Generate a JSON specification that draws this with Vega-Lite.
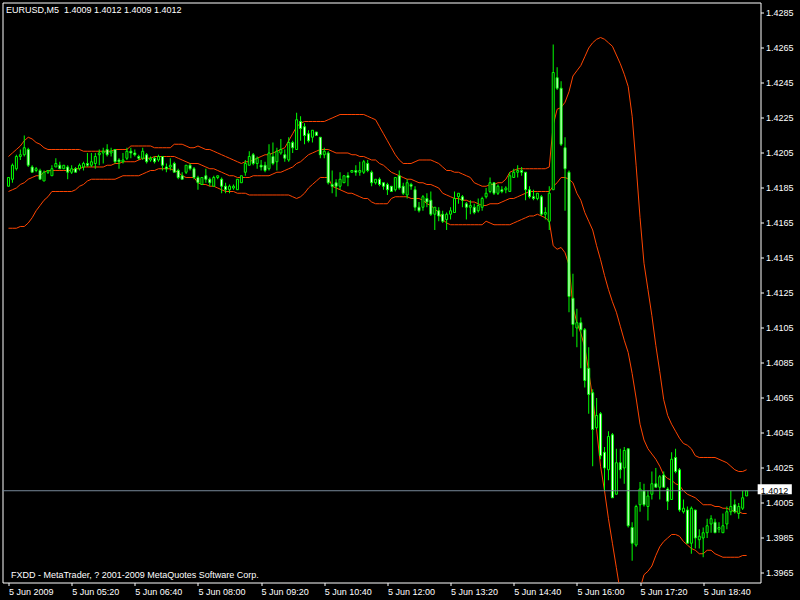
{
"$schema": "https://vega.github.io/schema/vega-lite/v6.json",
"width": 758, "height": 580,
"autosize": "none",
"padding": {"left": 2.5, "top": 2.5, "right": 39.5, "bottom": 17.5},
"background": "#000000",
"config": {"view": {"stroke": "#ffffff", "strokeWidth": 1}, "font": "Liberation Sans", "axis": {"labelOverlap": false, "labelSeparation": 0, "labelFlush": false, "labelBound": false}},
"title": {"text": "EURUSD,M5\u00a0 1.4009 1.4012 1.4009 1.4012", "anchor": "start", "frame": "group", "orient": "top", "offset": 0, "baseline": "top", "dx": 3.5, "dy": 12, "color": "#ffffff", "font": "Liberation Sans", "fontSize": 9, "fontWeight": "normal"},
"data": {"values": [
{"i":0,"o":1.4186,"h":1.4191,"l":1.4186,"c":1.4191,"u":1.4203,"m":1.4183,"lo":1.4162},
{"i":1,"o":1.4190,"h":1.4199,"l":1.4188,"c":1.4198,"u":1.4205,"m":1.4184,"lo":1.4162},
{"i":2,"o":1.4196,"h":1.4204,"l":1.4195,"c":1.4203,"u":1.4207,"m":1.4185,"lo":1.4162},
{"i":3,"o":1.4203,"h":1.4207,"l":1.4201,"c":1.4204,"u":1.4209,"m":1.4187,"lo":1.4163},
{"i":4,"o":1.4204,"h":1.4215,"l":1.4203,"c":1.4208,"u":1.4212,"m":1.4188,"lo":1.4163},
{"i":5,"o":1.4207,"h":1.4208,"l":1.4197,"c":1.4198,"u":1.4214,"m":1.4190,"lo":1.4165},
{"i":6,"o":1.4197,"h":1.4198,"l":1.4194,"c":1.4194,"u":1.4213,"m":1.4191,"lo":1.4168},
{"i":7,"o":1.4195,"h":1.4197,"l":1.4194,"c":1.4196,"u":1.4211,"m":1.4192,"lo":1.4172},
{"i":8,"o":1.4195,"h":1.4196,"l":1.4190,"c":1.4190,"u":1.4210,"m":1.4192,"lo":1.4175},
{"i":9,"o":1.4189,"h":1.4195,"l":1.4189,"c":1.4194,"u":1.4208,"m":1.4194,"lo":1.4178},
{"i":10,"o":1.4194,"h":1.4195,"l":1.4193,"c":1.4195,"u":1.4207,"m":1.4195,"lo":1.4180},
{"i":11,"o":1.4192,"h":1.4198,"l":1.4192,"c":1.4196,"u":1.4207,"m":1.4195,"lo":1.4183},
{"i":12,"o":1.4197,"h":1.4202,"l":1.4197,"c":1.4199,"u":1.4207,"m":1.4195,"lo":1.4183},
{"i":13,"o":1.4198,"h":1.4200,"l":1.4196,"c":1.4196,"u":1.4207,"m":1.4195,"lo":1.4183},
{"i":14,"o":1.4196,"h":1.4198,"l":1.4196,"c":1.4198,"u":1.4207,"m":1.4195,"lo":1.4183},
{"i":15,"o":1.4197,"h":1.4198,"l":1.4190,"c":1.4194,"u":1.4207,"m":1.4195,"lo":1.4183},
{"i":16,"o":1.4194,"h":1.4198,"l":1.4193,"c":1.4196,"u":1.4207,"m":1.4195,"lo":1.4183},
{"i":17,"o":1.4196,"h":1.4197,"l":1.4194,"c":1.4194,"u":1.4207,"m":1.4196,"lo":1.4184},
{"i":18,"o":1.4196,"h":1.4199,"l":1.4195,"c":1.4198,"u":1.4207,"m":1.4196,"lo":1.4186},
{"i":19,"o":1.4197,"h":1.4200,"l":1.4195,"c":1.4199,"u":1.4206,"m":1.4197,"lo":1.4187},
{"i":20,"o":1.4199,"h":1.4205,"l":1.4197,"c":1.4198,"u":1.4206,"m":1.4197,"lo":1.4189},
{"i":21,"o":1.4198,"h":1.4205,"l":1.4197,"c":1.4200,"u":1.4206,"m":1.4197,"lo":1.4190},
{"i":22,"o":1.4199,"h":1.4205,"l":1.4196,"c":1.4203,"u":1.4206,"m":1.4197,"lo":1.4190},
{"i":23,"o":1.4204,"h":1.4207,"l":1.4198,"c":1.4205,"u":1.4206,"m":1.4197,"lo":1.4190},
{"i":24,"o":1.4205,"h":1.4208,"l":1.4199,"c":1.4206,"u":1.4206,"m":1.4197,"lo":1.4190},
{"i":25,"o":1.4207,"h":1.4210,"l":1.4203,"c":1.4204,"u":1.4206,"m":1.4198,"lo":1.4190},
{"i":26,"o":1.4205,"h":1.4208,"l":1.4203,"c":1.4206,"u":1.4206,"m":1.4198,"lo":1.4190},
{"i":27,"o":1.4207,"h":1.4207,"l":1.4199,"c":1.4200,"u":1.4207,"m":1.4199,"lo":1.4190},
{"i":28,"o":1.4201,"h":1.4202,"l":1.4196,"c":1.4200,"u":1.4207,"m":1.4199,"lo":1.4191},
{"i":29,"o":1.4200,"h":1.4205,"l":1.4199,"c":1.4201,"u":1.4207,"m":1.4200,"lo":1.4192},
{"i":30,"o":1.4202,"h":1.4208,"l":1.4201,"c":1.4206,"u":1.4207,"m":1.4200,"lo":1.4192},
{"i":31,"o":1.4206,"h":1.4208,"l":1.4202,"c":1.4205,"u":1.4209,"m":1.4200,"lo":1.4192},
{"i":32,"o":1.4205,"h":1.4207,"l":1.4203,"c":1.4204,"u":1.4209,"m":1.4200,"lo":1.4192},
{"i":33,"o":1.4203,"h":1.4204,"l":1.4201,"c":1.4202,"u":1.4209,"m":1.4201,"lo":1.4192},
{"i":34,"o":1.4202,"h":1.4208,"l":1.4201,"c":1.4206,"u":1.4209,"m":1.4202,"lo":1.4193},
{"i":35,"o":1.4204,"h":1.4205,"l":1.4199,"c":1.4200,"u":1.4209,"m":1.4202,"lo":1.4194},
{"i":36,"o":1.4201,"h":1.4203,"l":1.4200,"c":1.4202,"u":1.4209,"m":1.4202,"lo":1.4195},
{"i":37,"o":1.4202,"h":1.4203,"l":1.4199,"c":1.4200,"u":1.4208,"m":1.4203,"lo":1.4195},
{"i":38,"o":1.4201,"h":1.4204,"l":1.4200,"c":1.4203,"u":1.4208,"m":1.4203,"lo":1.4196},
{"i":39,"o":1.4203,"h":1.4203,"l":1.4195,"c":1.4198,"u":1.4208,"m":1.4203,"lo":1.4196},
{"i":40,"o":1.4197,"h":1.4199,"l":1.4194,"c":1.4196,"u":1.4208,"m":1.4203,"lo":1.4196},
{"i":41,"o":1.4197,"h":1.4202,"l":1.4195,"c":1.4198,"u":1.4208,"m":1.4203,"lo":1.4196},
{"i":42,"o":1.4199,"h":1.4200,"l":1.4194,"c":1.4194,"u":1.4210,"m":1.4203,"lo":1.4195},
{"i":43,"o":1.4195,"h":1.4196,"l":1.4190,"c":1.4191,"u":1.4210,"m":1.4202,"lo":1.4194},
{"i":44,"o":1.4192,"h":1.4194,"l":1.4190,"c":1.4190,"u":1.4210,"m":1.4201,"lo":1.4192},
{"i":45,"o":1.4194,"h":1.4198,"l":1.4193,"c":1.4198,"u":1.4209,"m":1.4200,"lo":1.4191},
{"i":46,"o":1.4198,"h":1.4199,"l":1.4195,"c":1.4196,"u":1.4208,"m":1.4199,"lo":1.4191},
{"i":47,"o":1.4196,"h":1.4197,"l":1.4190,"c":1.4191,"u":1.4208,"m":1.4199,"lo":1.4191},
{"i":48,"o":1.4191,"h":1.4192,"l":1.4184,"c":1.4188,"u":1.4209,"m":1.4199,"lo":1.4188},
{"i":49,"o":1.4187,"h":1.4191,"l":1.4187,"c":1.4191,"u":1.4208,"m":1.4198,"lo":1.4187},
{"i":50,"o":1.4192,"h":1.4196,"l":1.4188,"c":1.4190,"u":1.4207,"m":1.4197,"lo":1.4187},
{"i":51,"o":1.4190,"h":1.4191,"l":1.4186,"c":1.4188,"u":1.4207,"m":1.4196,"lo":1.4186},
{"i":52,"o":1.4186,"h":1.4192,"l":1.4186,"c":1.4191,"u":1.4206,"m":1.4196,"lo":1.4186},
{"i":53,"o":1.4191,"h":1.4192,"l":1.4190,"c":1.4192,"u":1.4205,"m":1.4195,"lo":1.4185},
{"i":54,"o":1.4190,"h":1.4191,"l":1.4182,"c":1.4186,"u":1.4204,"m":1.4194,"lo":1.4184},
{"i":55,"o":1.4186,"h":1.4188,"l":1.4182,"c":1.4184,"u":1.4203,"m":1.4193,"lo":1.4183},
{"i":56,"o":1.4184,"h":1.4187,"l":1.4182,"c":1.4186,"u":1.4202,"m":1.4192,"lo":1.4183},
{"i":57,"o":1.4185,"h":1.4187,"l":1.4184,"c":1.4186,"u":1.4201,"m":1.4192,"lo":1.4183},
{"i":58,"o":1.4184,"h":1.4190,"l":1.4184,"c":1.4190,"u":1.4200,"m":1.4191,"lo":1.4182},
{"i":59,"o":1.4188,"h":1.4192,"l":1.4188,"c":1.4192,"u":1.4199,"m":1.4191,"lo":1.4182},
{"i":60,"o":1.4194,"h":1.4201,"l":1.4192,"c":1.4199,"u":1.4200,"m":1.4191,"lo":1.4182},
{"i":61,"o":1.4198,"h":1.4206,"l":1.4198,"c":1.4203,"u":1.4200,"m":1.4191,"lo":1.4181},
{"i":62,"o":1.4204,"h":1.4205,"l":1.4198,"c":1.4199,"u":1.4201,"m":1.4192,"lo":1.4181},
{"i":63,"o":1.4199,"h":1.4203,"l":1.4196,"c":1.4202,"u":1.4202,"m":1.4192,"lo":1.4181},
{"i":64,"o":1.4198,"h":1.4201,"l":1.4195,"c":1.4197,"u":1.4203,"m":1.4192,"lo":1.4181},
{"i":65,"o":1.4198,"h":1.4200,"l":1.4194,"c":1.4195,"u":1.4204,"m":1.4192,"lo":1.4181},
{"i":66,"o":1.4196,"h":1.4210,"l":1.4195,"c":1.4205,"u":1.4204,"m":1.4192,"lo":1.4181},
{"i":67,"o":1.4203,"h":1.4211,"l":1.4198,"c":1.4199,"u":1.4205,"m":1.4193,"lo":1.4181},
{"i":68,"o":1.4200,"h":1.4208,"l":1.4195,"c":1.4206,"u":1.4206,"m":1.4194,"lo":1.4181},
{"i":69,"o":1.4205,"h":1.4213,"l":1.4204,"c":1.4207,"u":1.4207,"m":1.4194,"lo":1.4181},
{"i":70,"o":1.4204,"h":1.4207,"l":1.4200,"c":1.4202,"u":1.4208,"m":1.4195,"lo":1.4181},
{"i":71,"o":1.4201,"h":1.4214,"l":1.4200,"c":1.4211,"u":1.4212,"m":1.4196,"lo":1.4181},
{"i":72,"o":1.4211,"h":1.4212,"l":1.4205,"c":1.4208,"u":1.4216,"m":1.4197,"lo":1.4180},
{"i":73,"o":1.4207,"h":1.4228,"l":1.4207,"c":1.4224,"u":1.4220,"m":1.4199,"lo":1.4179},
{"i":74,"o":1.4223,"h":1.4226,"l":1.4212,"c":1.4219,"u":1.4222,"m":1.4200,"lo":1.4180},
{"i":75,"o":1.4220,"h":1.4222,"l":1.4210,"c":1.4215,"u":1.4223,"m":1.4202,"lo":1.4182},
{"i":76,"o":1.4216,"h":1.4218,"l":1.4211,"c":1.4212,"u":1.4223,"m":1.4204,"lo":1.4185},
{"i":77,"o":1.4214,"h":1.4218,"l":1.4211,"c":1.4218,"u":1.4223,"m":1.4205,"lo":1.4187},
{"i":78,"o":1.4217,"h":1.4217,"l":1.4215,"c":1.4215,"u":1.4223,"m":1.4206,"lo":1.4189},
{"i":79,"o":1.4214,"h":1.4214,"l":1.4202,"c":1.4204,"u":1.4223,"m":1.4207,"lo":1.4191},
{"i":80,"o":1.4204,"h":1.4208,"l":1.4202,"c":1.4206,"u":1.4223,"m":1.4207,"lo":1.4191},
{"i":81,"o":1.4205,"h":1.4206,"l":1.4187,"c":1.4188,"u":1.4224,"m":1.4207,"lo":1.4191},
{"i":82,"o":1.4187,"h":1.4195,"l":1.4182,"c":1.4186,"u":1.4225,"m":1.4206,"lo":1.4186},
{"i":83,"o":1.4188,"h":1.4190,"l":1.4180,"c":1.4186,"u":1.4226,"m":1.4205,"lo":1.4185},
{"i":84,"o":1.4186,"h":1.4194,"l":1.4184,"c":1.4190,"u":1.4227,"m":1.4205,"lo":1.4184},
{"i":85,"o":1.4188,"h":1.4192,"l":1.4188,"c":1.4192,"u":1.4227,"m":1.4205,"lo":1.4183},
{"i":86,"o":1.4192,"h":1.4194,"l":1.4186,"c":1.4191,"u":1.4227,"m":1.4205,"lo":1.4182},
{"i":87,"o":1.4194,"h":1.4195,"l":1.4194,"c":1.4195,"u":1.4227,"m":1.4204,"lo":1.4182},
{"i":88,"o":1.4195,"h":1.4198,"l":1.4192,"c":1.4194,"u":1.4227,"m":1.4204,"lo":1.4181},
{"i":89,"o":1.4194,"h":1.4200,"l":1.4192,"c":1.4195,"u":1.4227,"m":1.4203,"lo":1.4180},
{"i":90,"o":1.4194,"h":1.4201,"l":1.4193,"c":1.4200,"u":1.4227,"m":1.4203,"lo":1.4179},
{"i":91,"o":1.4199,"h":1.4201,"l":1.4194,"c":1.4195,"u":1.4226,"m":1.4202,"lo":1.4179},
{"i":92,"o":1.4194,"h":1.4195,"l":1.4186,"c":1.4188,"u":1.4225,"m":1.4201,"lo":1.4177},
{"i":93,"o":1.4188,"h":1.4190,"l":1.4187,"c":1.4190,"u":1.4224,"m":1.4201,"lo":1.4176},
{"i":94,"o":1.4190,"h":1.4191,"l":1.4186,"c":1.4187,"u":1.4220,"m":1.4199,"lo":1.4176},
{"i":95,"o":1.4188,"h":1.4188,"l":1.4184,"c":1.4186,"u":1.4216,"m":1.4198,"lo":1.4176},
{"i":96,"o":1.4187,"h":1.4188,"l":1.4181,"c":1.4184,"u":1.4212,"m":1.4196,"lo":1.4176},
{"i":97,"o":1.4186,"h":1.4186,"l":1.4183,"c":1.4183,"u":1.4208,"m":1.4194,"lo":1.4179},
{"i":98,"o":1.4184,"h":1.4191,"l":1.4183,"c":1.4191,"u":1.4204,"m":1.4193,"lo":1.4180},
{"i":99,"o":1.4192,"h":1.4195,"l":1.4184,"c":1.4185,"u":1.4201,"m":1.4192,"lo":1.4180},
{"i":100,"o":1.4186,"h":1.4188,"l":1.4181,"c":1.4182,"u":1.4199,"m":1.4191,"lo":1.4180},
{"i":101,"o":1.4181,"h":1.4190,"l":1.4179,"c":1.4188,"u":1.4199,"m":1.4190,"lo":1.4180},
{"i":102,"o":1.4187,"h":1.4188,"l":1.4184,"c":1.4186,"u":1.4199,"m":1.4190,"lo":1.4179},
{"i":103,"o":1.4184,"h":1.4186,"l":1.4172,"c":1.4174,"u":1.4200,"m":1.4189,"lo":1.4179},
{"i":104,"o":1.4174,"h":1.4177,"l":1.4171,"c":1.4172,"u":1.4201,"m":1.4188,"lo":1.4179},
{"i":105,"o":1.4174,"h":1.4181,"l":1.4172,"c":1.4180,"u":1.4201,"m":1.4188,"lo":1.4178},
{"i":106,"o":1.4179,"h":1.4182,"l":1.4174,"c":1.4177,"u":1.4201,"m":1.4187,"lo":1.4176},
{"i":107,"o":1.4178,"h":1.4183,"l":1.4169,"c":1.4170,"u":1.4201,"m":1.4187,"lo":1.4175},
{"i":108,"o":1.4170,"h":1.4174,"l":1.4161,"c":1.4174,"u":1.4200,"m":1.4186,"lo":1.4173},
{"i":109,"o":1.4172,"h":1.4174,"l":1.4166,"c":1.4169,"u":1.4199,"m":1.4185,"lo":1.4171},
{"i":110,"o":1.4170,"h":1.4172,"l":1.4165,"c":1.4166,"u":1.4197,"m":1.4182,"lo":1.4167},
{"i":111,"o":1.4167,"h":1.4171,"l":1.4161,"c":1.4170,"u":1.4195,"m":1.4181,"lo":1.4165},
{"i":112,"o":1.4170,"h":1.4174,"l":1.4167,"c":1.4172,"u":1.4195,"m":1.4180,"lo":1.4164},
{"i":113,"o":1.4171,"h":1.4183,"l":1.4171,"c":1.4179,"u":1.4194,"m":1.4179,"lo":1.4164},
{"i":114,"o":1.4180,"h":1.4182,"l":1.4176,"c":1.4182,"u":1.4194,"m":1.4179,"lo":1.4164},
{"i":115,"o":1.4180,"h":1.4181,"l":1.4174,"c":1.4178,"u":1.4193,"m":1.4178,"lo":1.4164},
{"i":116,"o":1.4176,"h":1.4177,"l":1.4167,"c":1.4174,"u":1.4192,"m":1.4178,"lo":1.4164},
{"i":117,"o":1.4174,"h":1.4178,"l":1.4170,"c":1.4175,"u":1.4191,"m":1.4177,"lo":1.4164},
{"i":118,"o":1.4174,"h":1.4176,"l":1.4170,"c":1.4171,"u":1.4188,"m":1.4177,"lo":1.4164},
{"i":119,"o":1.4172,"h":1.4179,"l":1.4171,"c":1.4175,"u":1.4187,"m":1.4176,"lo":1.4164},
{"i":120,"o":1.4174,"h":1.4180,"l":1.4172,"c":1.4179,"u":1.4186,"m":1.4175,"lo":1.4164},
{"i":121,"o":1.4180,"h":1.4185,"l":1.4179,"c":1.4182,"u":1.4186,"m":1.4175,"lo":1.4166},
{"i":122,"o":1.4183,"h":1.4191,"l":1.4182,"c":1.4188,"u":1.4187,"m":1.4176,"lo":1.4165},
{"i":123,"o":1.4188,"h":1.4188,"l":1.4181,"c":1.4182,"u":1.4187,"m":1.4176,"lo":1.4164},
{"i":124,"o":1.4182,"h":1.4187,"l":1.4181,"c":1.4186,"u":1.4188,"m":1.4176,"lo":1.4164},
{"i":125,"o":1.4184,"h":1.4186,"l":1.4182,"c":1.4183,"u":1.4188,"m":1.4177,"lo":1.4164},
{"i":126,"o":1.4184,"h":1.4186,"l":1.4182,"c":1.4185,"u":1.4190,"m":1.4178,"lo":1.4164},
{"i":127,"o":1.4183,"h":1.4194,"l":1.4183,"c":1.4192,"u":1.4194,"m":1.4179,"lo":1.4164},
{"i":128,"o":1.4191,"h":1.4196,"l":1.4191,"c":1.4194,"u":1.4195,"m":1.4179,"lo":1.4165},
{"i":129,"o":1.4194,"h":1.4198,"l":1.4191,"c":1.4195,"u":1.4196,"m":1.4180,"lo":1.4166},
{"i":130,"o":1.4195,"h":1.4197,"l":1.4192,"c":1.4194,"u":1.4196,"m":1.4181,"lo":1.4167},
{"i":131,"o":1.4194,"h":1.4194,"l":1.4178,"c":1.4184,"u":1.4196,"m":1.4182,"lo":1.4168},
{"i":132,"o":1.4184,"h":1.4186,"l":1.4179,"c":1.4180,"u":1.4196,"m":1.4183,"lo":1.4169},
{"i":133,"o":1.4180,"h":1.4184,"l":1.4178,"c":1.4179,"u":1.4196,"m":1.4183,"lo":1.4169},
{"i":134,"o":1.4179,"h":1.4182,"l":1.4178,"c":1.4182,"u":1.4196,"m":1.4183,"lo":1.4170},
{"i":135,"o":1.4180,"h":1.4181,"l":1.4169,"c":1.4170,"u":1.4196,"m":1.4183,"lo":1.4169},
{"i":136,"o":1.4170,"h":1.4174,"l":1.4167,"c":1.4171,"u":1.4196,"m":1.4183,"lo":1.4168},
{"i":137,"o":1.4166,"h":1.4186,"l":1.4161,"c":1.4182,"u":1.4197,"m":1.4183,"lo":1.4166},
{"i":138,"o":1.4184,"h":1.4267,"l":1.4184,"c":1.4251,"u":1.4221,"m":1.4186,"lo":1.4152},
{"i":139,"o":1.4248,"h":1.4254,"l":1.4241,"c":1.4242,"u":1.4230,"m":1.4188,"lo":1.4150},
{"i":140,"o":1.4242,"h":1.4246,"l":1.4209,"c":1.4210,"u":1.4231,"m":1.4191,"lo":1.4151},
{"i":141,"o":1.4208,"h":1.4214,"l":1.4172,"c":1.4196,"u":1.4234,"m":1.4191,"lo":1.4148},
{"i":142,"o":1.4194,"h":1.4195,"l":1.4114,"c":1.4123,"u":1.4240,"m":1.4190,"lo":1.4141},
{"i":143,"o":1.4122,"h":1.4136,"l":1.4100,"c":1.4107,"u":1.4249,"m":1.4188,"lo":1.4117},
{"i":144,"o":1.4105,"h":1.4116,"l":1.4094,"c":1.4108,"u":1.4252,"m":1.4182,"lo":1.4108},
{"i":145,"o":1.4108,"h":1.4111,"l":1.4082,"c":1.4104,"u":1.4255,"m":1.4178,"lo":1.4102},
{"i":146,"o":1.4104,"h":1.4105,"l":1.4071,"c":1.4075,"u":1.4260,"m":1.4171,"lo":1.4094},
{"i":147,"o":1.4082,"h":1.4094,"l":1.4056,"c":1.4067,"u":1.4265,"m":1.4166,"lo":1.4080},
{"i":148,"o":1.4068,"h":1.4070,"l":1.4026,"c":1.4047,"u":1.4268,"m":1.4161,"lo":1.4065},
{"i":149,"o":1.4048,"h":1.4065,"l":1.4047,"c":1.4055,"u":1.4270,"m":1.4152,"lo":1.4047},
{"i":150,"o":1.4056,"h":1.4057,"l":1.4030,"c":1.4032,"u":1.4271,"m":1.4144,"lo":1.4026},
{"i":151,"o":1.4034,"h":1.4037,"l":1.4012,"c":1.4025,"u":1.4270,"m":1.4135,"lo":1.4012},
{"i":152,"o":1.4024,"h":1.4046,"l":1.4018,"c":1.4043,"u":1.4268,"m":1.4127,"lo":1.3996},
{"i":153,"o":1.4044,"h":1.4045,"l":1.4008,"c":1.4008,"u":1.4266,"m":1.4120,"lo":1.3982},
{"i":154,"o":1.4010,"h":1.4036,"l":1.4010,"c":1.4028,"u":1.4261,"m":1.4114,"lo":1.3968},
{"i":155,"o":1.4028,"h":1.4036,"l":1.4019,"c":1.4024,"u":1.4256,"m":1.4106,"lo":1.3954},
{"i":156,"o":1.4025,"h":1.4037,"l":1.4016,"c":1.4035,"u":1.4250,"m":1.4098,"lo":1.3944},
{"i":157,"o":1.4036,"h":1.4036,"l":1.3991,"c":1.3992,"u":1.4243,"m":1.4091,"lo":1.3939},
{"i":158,"o":1.3991,"h":1.3994,"l":1.3972,"c":1.3982,"u":1.4226,"m":1.4079,"lo":1.3942},
{"i":159,"o":1.3981,"h":1.4004,"l":1.3980,"c":1.4003,"u":1.4198,"m":1.4065,"lo":1.3950},
{"i":160,"o":1.4004,"h":1.4017,"l":1.4000,"c":1.4013,"u":1.4168,"m":1.4050,"lo":1.3956},
{"i":161,"o":1.4012,"h":1.4016,"l":1.4003,"c":1.4004,"u":1.4142,"m":1.4041,"lo":1.3964},
{"i":162,"o":1.4003,"h":1.4012,"l":1.3995,"c":1.4009,"u":1.4127,"m":1.4036,"lo":1.3966},
{"i":163,"o":1.4010,"h":1.4023,"l":1.4007,"c":1.4016,"u":1.4112,"m":1.4033,"lo":1.3969},
{"i":164,"o":1.4016,"h":1.4025,"l":1.4014,"c":1.4014,"u":1.4095,"m":1.4030,"lo":1.3975},
{"i":165,"o":1.4014,"h":1.4021,"l":1.4007,"c":1.4020,"u":1.4080,"m":1.4026,"lo":1.3980},
{"i":166,"o":1.4021,"h":1.4023,"l":1.4014,"c":1.4014,"u":1.4064,"m":1.4021,"lo":1.3983},
{"i":167,"o":1.4013,"h":1.4014,"l":1.4001,"c":1.4006,"u":1.4055,"m":1.4019,"lo":1.3985},
{"i":168,"o":1.4007,"h":1.4034,"l":1.4007,"c":1.4030,"u":1.4050,"m":1.4018,"lo":1.3987},
{"i":169,"o":1.4031,"h":1.4036,"l":1.4022,"c":1.4023,"u":1.4046,"m":1.4016,"lo":1.3987},
{"i":170,"o":1.4024,"h":1.4025,"l":1.4000,"c":1.4001,"u":1.4042,"m":1.4015,"lo":1.3986},
{"i":171,"o":1.4000,"h":1.4007,"l":1.3999,"c":1.4002,"u":1.4039,"m":1.4012,"lo":1.3983},
{"i":172,"o":1.4001,"h":1.4003,"l":1.3982,"c":1.3982,"u":1.4038,"m":1.4010,"lo":1.3981},
{"i":173,"o":1.3982,"h":1.4003,"l":1.3976,"c":1.4002,"u":1.4036,"m":1.4009,"lo":1.3979},
{"i":174,"o":1.4001,"h":1.4001,"l":1.3979,"c":1.3985,"u":1.4032,"m":1.4008,"lo":1.3978},
{"i":175,"o":1.3984,"h":1.3990,"l":1.3979,"c":1.3986,"u":1.4031,"m":1.4006,"lo":1.3976},
{"i":176,"o":1.3985,"h":1.3991,"l":1.3974,"c":1.3988,"u":1.4031,"m":1.4004,"lo":1.3976},
{"i":177,"o":1.3988,"h":1.3996,"l":1.3985,"c":1.3992,"u":1.4031,"m":1.4004,"lo":1.3978},
{"i":178,"o":1.3993,"h":1.3998,"l":1.3988,"c":1.3996,"u":1.4031,"m":1.4004,"lo":1.3978},
{"i":179,"o":1.3994,"h":1.3996,"l":1.3988,"c":1.3988,"u":1.4031,"m":1.4003,"lo":1.3976},
{"i":180,"o":1.3990,"h":1.3994,"l":1.3988,"c":1.3991,"u":1.4030,"m":1.4003,"lo":1.3975},
{"i":181,"o":1.3988,"h":1.3999,"l":1.3988,"c":1.3992,"u":1.4029,"m":1.4002,"lo":1.3974},
{"i":182,"o":1.3993,"h":1.4003,"l":1.3990,"c":1.4000,"u":1.4028,"m":1.4002,"lo":1.3974},
{"i":183,"o":1.4000,"h":1.4012,"l":1.3998,"c":1.4003,"u":1.4026,"m":1.4001,"lo":1.3974},
{"i":184,"o":1.4004,"h":1.4007,"l":1.3999,"c":1.4000,"u":1.4024,"m":1.4000,"lo":1.3974},
{"i":185,"o":1.3999,"h":1.4005,"l":1.3996,"c":1.4003,"u":1.4023,"m":1.4000,"lo":1.3974},
{"i":186,"o":1.4002,"h":1.4012,"l":1.4001,"c":1.4008,"u":1.4023,"m":1.3999,"lo":1.3975},
{"i":187,"o":1.4009,"h":1.4012,"l":1.4009,"c":1.4012,"u":1.4024,"m":1.3999,"lo":1.3975}
]},
"layer": [
{"mark": {"type": "line", "color": "#ff4500", "strokeWidth": 1, "clip": true},
 "encoding": {
  "x": {"field": "i", "type": "quantitative", "scale": {"domain": [-0.25, 189.25], "nice": false, "zero": false},
        "axis": {"title": null, "orient": "bottom", "values": [0,16,32,48,64,80,96,112,128,144,160,176], "tickCount": 30,
                 "labelExpr": "datum.value == 0 ? '5 Jun 2009' : '5 Jun ' + timeFormat(datetime(2009, 5, 5, 4, 5 * datum.value), '%H:%M')",
                 "domain": false, "grid": false, "tickColor": "#ffffff", "tickSize": 3, "labelColor": "#ffffff",
                 "labelFont": "Liberation Sans", "labelFontSize": 9, "labelAlign": "left", "labelBaseline": "top",
                 "labelPadding": 2, "labelOverlap": false, "labelFlush": false}},
  "y": {"field": "u", "type": "quantitative", "scale": {"domain": [1.395957, 1.4291], "nice": false, "zero": false},
        "axis": {"title": null, "orient": "right", "values": [1.4285,1.4265,1.4245,1.4225,1.4205,1.4185,1.4165,1.4145,1.4125,1.4105,1.4085,1.4065,1.4045,1.4025,1.4005,1.3985,1.3965], "tickCount": 30,
                 "format": ".4f", "domain": false, "grid": false, "tickColor": "#ffffff", "tickSize": 3, "labelColor": "#ffffff",
                 "labelFont": "Liberation Sans", "labelFontSize": 9, "labelPadding": 2, "labelOverlap": false, "labelFlush": false, "labelBound": false}}
 }},
{"mark": {"type": "line", "color": "#ff4500", "strokeWidth": 1, "clip": true},
 "encoding": {"x": {"field": "i", "type": "quantitative"}, "y": {"field": "m", "type": "quantitative"}}},
{"mark": {"type": "line", "color": "#ff4500", "strokeWidth": 1, "clip": true},
 "encoding": {"x": {"field": "i", "type": "quantitative"}, "y": {"field": "lo", "type": "quantitative"}}},
{"mark": {"type": "rule", "color": "#00ff00", "strokeWidth": 1},
 "encoding": {"x": {"field": "i", "type": "quantitative"}, "y": {"field": "l", "type": "quantitative"}, "y2": {"field": "h"}}},
{"mark": {"type": "bar", "width": 2, "strokeWidth": 1},
 "encoding": {"x": {"field": "i", "type": "quantitative"}, "y": {"field": "o", "type": "quantitative"}, "y2": {"field": "c"},
  "fill": {"condition": {"test": "datum.c > datum.o", "value": "#000000"}, "value": "#ffffff"},
  "stroke": {"value": "#00ff00"}}},
{"data": {"values": [{"p": 1.4012}]},
 "mark": {"type": "rule", "color": "#778899", "strokeWidth": 1},
 "encoding": {"y": {"field": "p", "type": "quantitative"}}},
{"data": {"values": [{"x1": 189.8, "x2": 198.45, "y1": 1.40157, "y2": 1.40100}]},
 "mark": {"type": "rect", "fill": "#ffffff"},
 "encoding": {"x": {"field": "x1", "type": "quantitative"}, "x2": {"field": "x2"}, "y": {"field": "y1", "type": "quantitative"}, "y2": {"field": "y2"}}},
{"data": {"values": [{"x": 190.6, "p": 1.4012, "t": "1.4012"}]},
 "mark": {"type": "text", "align": "left", "baseline": "middle", "color": "#000000", "font": "Liberation Sans", "fontSize": 9},
 "encoding": {"x": {"field": "x", "type": "quantitative"}, "y": {"field": "p", "type": "quantitative"}, "text": {"field": "t"}}},
{"data": {"values": [{"x": 0.625, "p": 1.39621, "t": "FXDD - MetaTrader, ? 2001-2009 MetaQuotes Software Corp."}]},
 "mark": {"type": "text", "align": "left", "baseline": "alphabetic", "color": "#ffffff", "font": "Liberation Sans", "fontSize": 9},
 "encoding": {"x": {"field": "x", "type": "quantitative"}, "y": {"field": "p", "type": "quantitative"}, "text": {"field": "t"}}}
]
}
